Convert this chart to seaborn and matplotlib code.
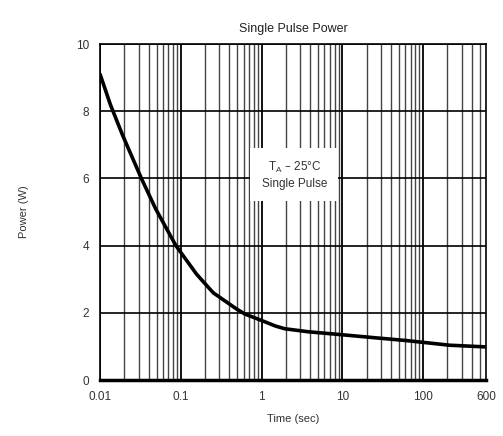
import matplotlib
matplotlib.use("Agg")
import matplotlib.pyplot as plt
import seaborn as sns
import pandas as pd
from matplotlib.ticker import FixedLocator, NullFormatter

# curve
time_sec = [0.01, 0.0134, 0.0189, 0.0325, 0.0487, 0.087, 0.157, 0.252, 0.489, 0.62,
            1.04, 1.49, 1.94, 3.8, 9.1, 26, 61.5, 214, 600]
power_w = [9.1, 8.2, 7.3, 6.0, 5.1, 4.0, 3.15, 2.6, 2.12, 1.97,
           1.76, 1.61, 1.53, 1.44, 1.36, 1.26, 1.18, 1.04, 0.99]

x_ticks = [0.01, 0.1, 1, 10, 100, 600]
x_labels = ["0.01", "0.1", "1", "10", "100", "600"]
y_ticks = [0, 2, 4, 6, 8, 10]

df = pd.DataFrame({"time": time_sec, "power": power_w})

sns.set_style("white")
plt.rcParams['font.family'] = ['Liberation Sans', 'DejaVu Sans']

fig = plt.figure(figsize=(5.03, 4.36), dpi=100)
ax = fig.add_axes([0.199, 0.128, 0.767, 0.771])

ax.set_xscale("log")
ax.set_xlim(0.01, 600)
ax.set_ylim(0, 10)

# grid: decades + minor 2..9
minor = [m * 10.0 ** e for e in range(-2, 3) for m in range(2, 10) if m * 10.0 ** e < 600]
for v in minor:
    ax.axvline(v, color="#444444", lw=1.0, zorder=1)
for v in [0.01, 0.1, 1, 10, 100]:
    ax.axvline(v, color="black", lw=1.3, zorder=1)
for v in y_ticks:
    ax.axhline(v, color="black", lw=1.2, zorder=1)

sns.lineplot(data=df, x="time", y="power", color="black", lw=2.6, ax=ax, zorder=3)

ax.text(2.54, 6.1, "T$_\\mathregular{A}$ \u2013 25\u00b0C\nSingle Pulse", ha="center", va="center",
        fontsize=8.5, color="#333333", linespacing=1.3, zorder=4,
        bbox=dict(facecolor="white", edgecolor="none", pad=8))

ax.xaxis.set_major_locator(FixedLocator(x_ticks))
ax.xaxis.set_minor_formatter(NullFormatter())
ax.set_xticks(x_ticks)
ax.set_xticklabels(x_labels)
ax.set_yticks(y_ticks)
ax.tick_params(axis="both", length=0, labelsize=8.5, colors="#333333", pad=8)

for s in ax.spines.values():
    s.set_color("black")
    s.set_linewidth(1.2)
ax.spines["bottom"].set_linewidth(2.5)

ax.set_xlabel("Time (sec)", fontsize=8, color="#333333", labelpad=8)
ax.set_ylabel("Power (W)", fontsize=8, color="#333333", labelpad=34)
ax.set_title("Single Pulse Power", fontsize=9, color="#222222", pad=9)

fig.savefig("out.png", dpi=100)
